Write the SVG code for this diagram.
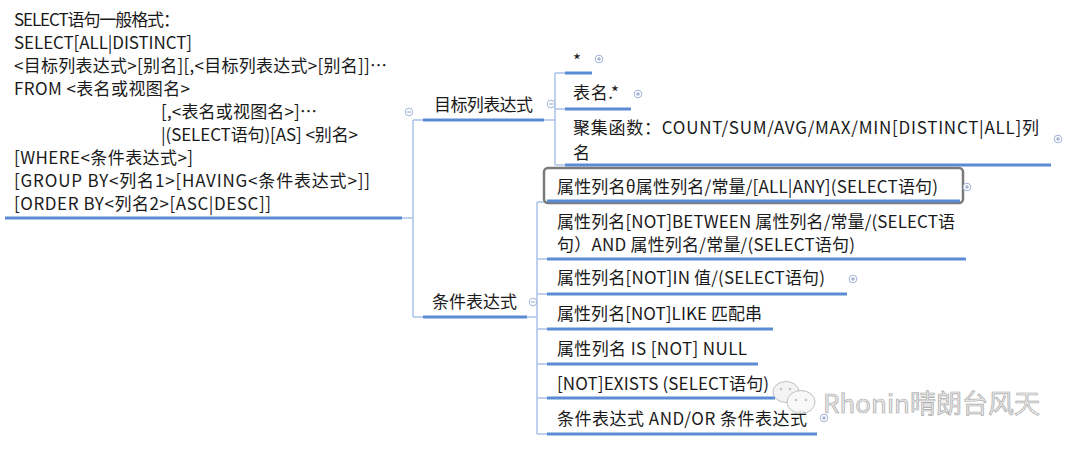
<svg xmlns="http://www.w3.org/2000/svg" width="1080" height="450" viewBox="0 0 1080 450">
<style>
text{font-family:"Microsoft YaHei","Noto Sans CJK SC",sans-serif;font-size:17px;fill:#1a1a1a}
.ul{stroke:#5a8bd4;stroke-width:3;fill:none}
.cn{stroke:#a9c4ec;stroke-width:1.5;fill:none}
.ci{fill:#fff;stroke:#9fb3d8;stroke-width:1}
.sg{stroke:#8aa0c8;stroke-width:1}
.wm{font-family:"Noto Sans CJK SC",sans-serif;font-size:26px;fill:#e6e6e6;stroke:#9a9a9a;stroke-width:0.7}
</style>
<defs>
<g id="plus"><circle class="ci" r="3.8"/><path class="sg" d="M-2 0H2M0 -2V2"/></g>
<g id="minus"><circle class="ci" r="3.8"/><path class="sg" d="M-2 0H2"/></g>
</defs>
<g id="connectors">
<path class="cn" d="M402 218H413M413 120V317M413 120H423M413 317H423"/>
<path class="cn" d="M544 120H555M555 73V165M555 73H565M555 109H565M555 165H565"/>
<path class="cn" d="M527 317H537M537 202V434M537 202H547M537 259H547M537 294H547M537 329H547M537 364H547M537 398H547M537 434H547"/>
</g>
<g id="root">
<text x="14" y="26" textLength="166">SELECT语句一般格式：</text>
<text x="14" y="49" textLength="178">SELECT[ALL|DISTINCT]</text>
<text x="14" y="72" textLength="373">&lt;目标列表达式&gt;[别名][,&lt;目标列表达式&gt;[别名]]…</text>
<text x="14" y="95" textLength="176">FROM &lt;表名或视图名&gt;</text>
<text x="161" y="118" textLength="156">[,&lt;表名或视图名&gt;]…</text>
<text x="161" y="141" textLength="197">|(SELECT语句)[AS] &lt;别名&gt;</text>
<text x="14" y="164" textLength="179">[WHERE&lt;条件表达式&gt;]</text>
<text x="14" y="187" textLength="356">[GROUP BY&lt;列名1&gt;[HAVING&lt;条件表达式&gt;]]</text>
<text x="14" y="210" textLength="257">[ORDER BY&lt;列名2&gt;[ASC|DESC]]</text>
<path class="ul" d="M5 218H402"/>
</g>
<g id="target">
<text x="434" y="111" textLength="99">目标列表达式</text>
<path class="ul" d="M423 120H544"/>
<use href="#minus" x="409" y="112"/>
<use href="#minus" x="551" y="104"/>
</g>
<g id="star">
<text x="573" y="67">*</text>
<path class="ul" d="M565 73H592"/>
<use href="#plus" x="599" y="59"/>
</g>
<g id="tablestar">
<text x="573" y="99" textLength="46">表名.*</text>
<path class="ul" d="M565 109H631"/>
<use href="#plus" x="638" y="94"/>
</g>
<g id="aggregate">
<text x="573" y="134" textLength="466">聚集函数：COUNT/SUM/AVG/MAX/MIN[DISTINCT|ALL]列</text>
<text x="573" y="159">名</text>
<path class="ul" d="M565 165H1051"/>
<use href="#plus" x="1058" y="139"/>
</g>
<g id="cond">
<text x="432" y="308" textLength="85">条件表达式</text>
<path class="ul" d="M423 317H527"/>
<use href="#minus" x="533" y="302"/>
</g>
<g id="theta">
<rect x="544" y="168" width="419" height="35" rx="4" fill="none" stroke="#7a7a7a" stroke-width="2.5"/>
<text x="557" y="193" textLength="381">属性列名θ属性列名/常量/[ALL|ANY](SELECT语句)</text>
<path class="ul" d="M547 201H960"/>
<use href="#plus" x="967" y="187"/>
</g>
<g id="between">
<text x="557" y="228" textLength="398">属性列名[NOT]BETWEEN 属性列名/常量/(SELECT语</text>
<text x="557" y="251" textLength="298">句）AND 属性列名/常量/(SELECT语句)</text>
<path class="ul" d="M547 259H966"/>
</g>
<g id="in">
<text x="557" y="284" textLength="268">属性列名[NOT]IN 值/(SELECT语句)</text>
<path class="ul" d="M547 294H847"/>
<use href="#plus" x="853" y="279"/>
</g>
<g id="like">
<text x="557" y="320" textLength="205">属性列名[NOT]LIKE 匹配串</text>
<path class="ul" d="M547 329H773"/>
</g>
<g id="isnull">
<text x="557" y="355" textLength="190">属性列名 IS [NOT] NULL</text>
<path class="ul" d="M547 364H758"/>
</g>
<g id="exists">
<text x="557" y="390" textLength="212">[NOT]EXISTS (SELECT语句)</text>
<path class="ul" d="M547 398H775"/>
</g>
<g id="andor">
<text x="557" y="425" textLength="250">条件表达式 AND/OR 条件表达式</text>
<path class="ul" d="M547 434H817"/>
<use href="#plus" x="824" y="418"/>
</g>
<g id="watermark" opacity="0.85">
<ellipse cx="786" cy="392" rx="13" ry="10.5" fill="#f2f2f2" stroke="#b5b5b5" stroke-width="1"/>
<ellipse cx="801" cy="402" rx="14" ry="11.5" fill="#f7f7f7" stroke="#b5b5b5" stroke-width="1"/>
<circle cx="781" cy="389" r="1.3" fill="#bbb"/>
<circle cx="790" cy="389" r="1.3" fill="#bbb"/>
<circle cx="796" cy="400" r="1.3" fill="#bbb"/>
<circle cx="806" cy="400" r="1.3" fill="#bbb"/>
<text class="wm" x="823" y="413">Rhonin晴朗台风天</text>
</g>
</svg>
